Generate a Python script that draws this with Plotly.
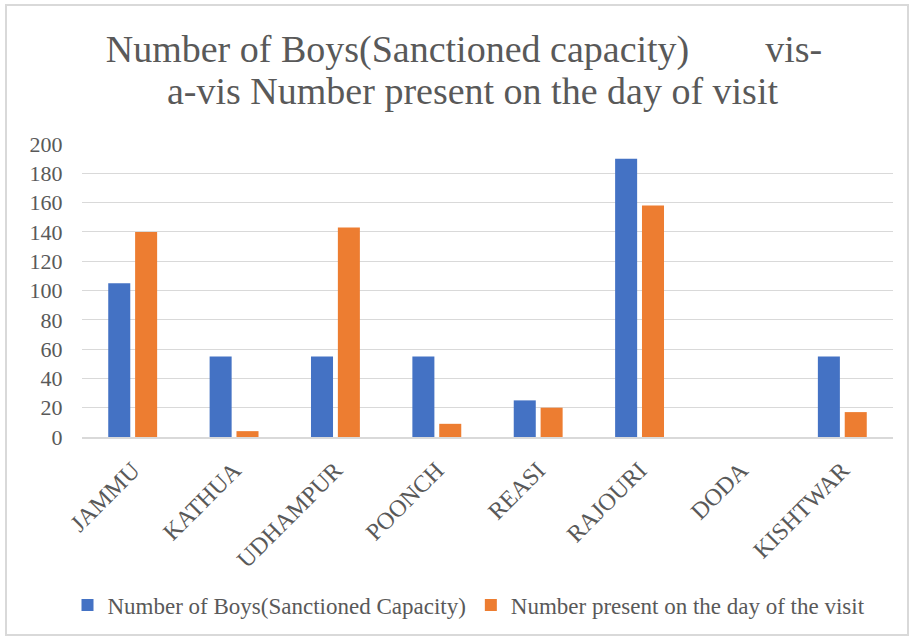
import plotly.graph_objects as go

categories = ["JAMMU", "KATHUA", "UDHAMPUR", "POONCH", "REASI", "RAJOURI", "DODA", "KISHTWAR"]
sanctioned = [105, 55, 55, 55, 25, 190, 0, 55]
present = [140, 4, 143, 9, 20, 158, 0, 17]
y_ticks = [0, 20, 40, 60, 80, 100, 120, 140, 160, 180, 200]

FONT = "Liberation Serif"
TXT = "#595959"

fig = go.Figure()
fig.add_trace(go.Bar(x=categories, y=sanctioned, name="Number of Boys(Sanctioned Capacity)",
                     marker=dict(color="#4472C4", line=dict(width=0))))
fig.add_trace(go.Bar(x=categories, y=present, name="Number present on the day of the visit",
                     marker=dict(color="#ED7D31", line=dict(width=0))))

nb = "\u00a0"
title_line1 = "Number of Boys(Sanctioned capacity)" + nb * 8 + "vis-"
title_line2 = "a-vis Number present on the day of visit"

fig.update_layout(
    width=911, height=638,
    paper_bgcolor="white", plot_bgcolor="white",
    margin=dict(l=82, r=18, t=144, b=201),
    barmode="group", bargap=0.47, bargroupgap=0.18,
    font=dict(family=FONT, color=TXT),
    title=dict(text=title_line1, x=464 / 911, xanchor="center", xref="container",
               y=1 - 49 / 638, yanchor="middle", yref="container",
               font=dict(family=FONT, size=38, color=TXT)),
    annotations=[dict(text=title_line2, xref="paper", yref="paper",
                      x=(472 - 82) / 811, y=(437 - 91) / 293, xanchor="center", yanchor="middle",
                      showarrow=False, font=dict(family=FONT, size=38, color=TXT))],
    xaxis=dict(tickangle=-45, tickfont=dict(family=FONT, size=24, color=TXT),
               showgrid=False, showline=True, linecolor="#D9D9D9", linewidth=1.5,
               ticks="outside", tickcolor="rgba(0,0,0,0)", ticklen=8),
    yaxis=dict(range=[0, 200], tickvals=y_ticks, tickfont=dict(family=FONT, size=22, color=TXT),
               showgrid=True, gridcolor="#D9D9D9", gridwidth=1.3, zeroline=False,
               ticks="outside", tickcolor="rgba(0,0,0,0)", ticklen=14, showline=False),
    legend=dict(orientation="h", x=(469 - 82) / 811, xanchor="center", y=(437 - 605) / 293,
                yanchor="middle", font=dict(family=FONT, size=23, color=TXT),
                itemwidth=30, traceorder="normal"),
    shapes=[dict(type="rect", xref="paper", yref="paper",
                 x0=(6 - 82) / 811, x1=(908 - 82) / 811, y0=(437 - 635) / 293, y1=(437 - 5) / 293,
                 line=dict(color="#D9D9D9", width=2))],
)

fig.write_html("out.html")
